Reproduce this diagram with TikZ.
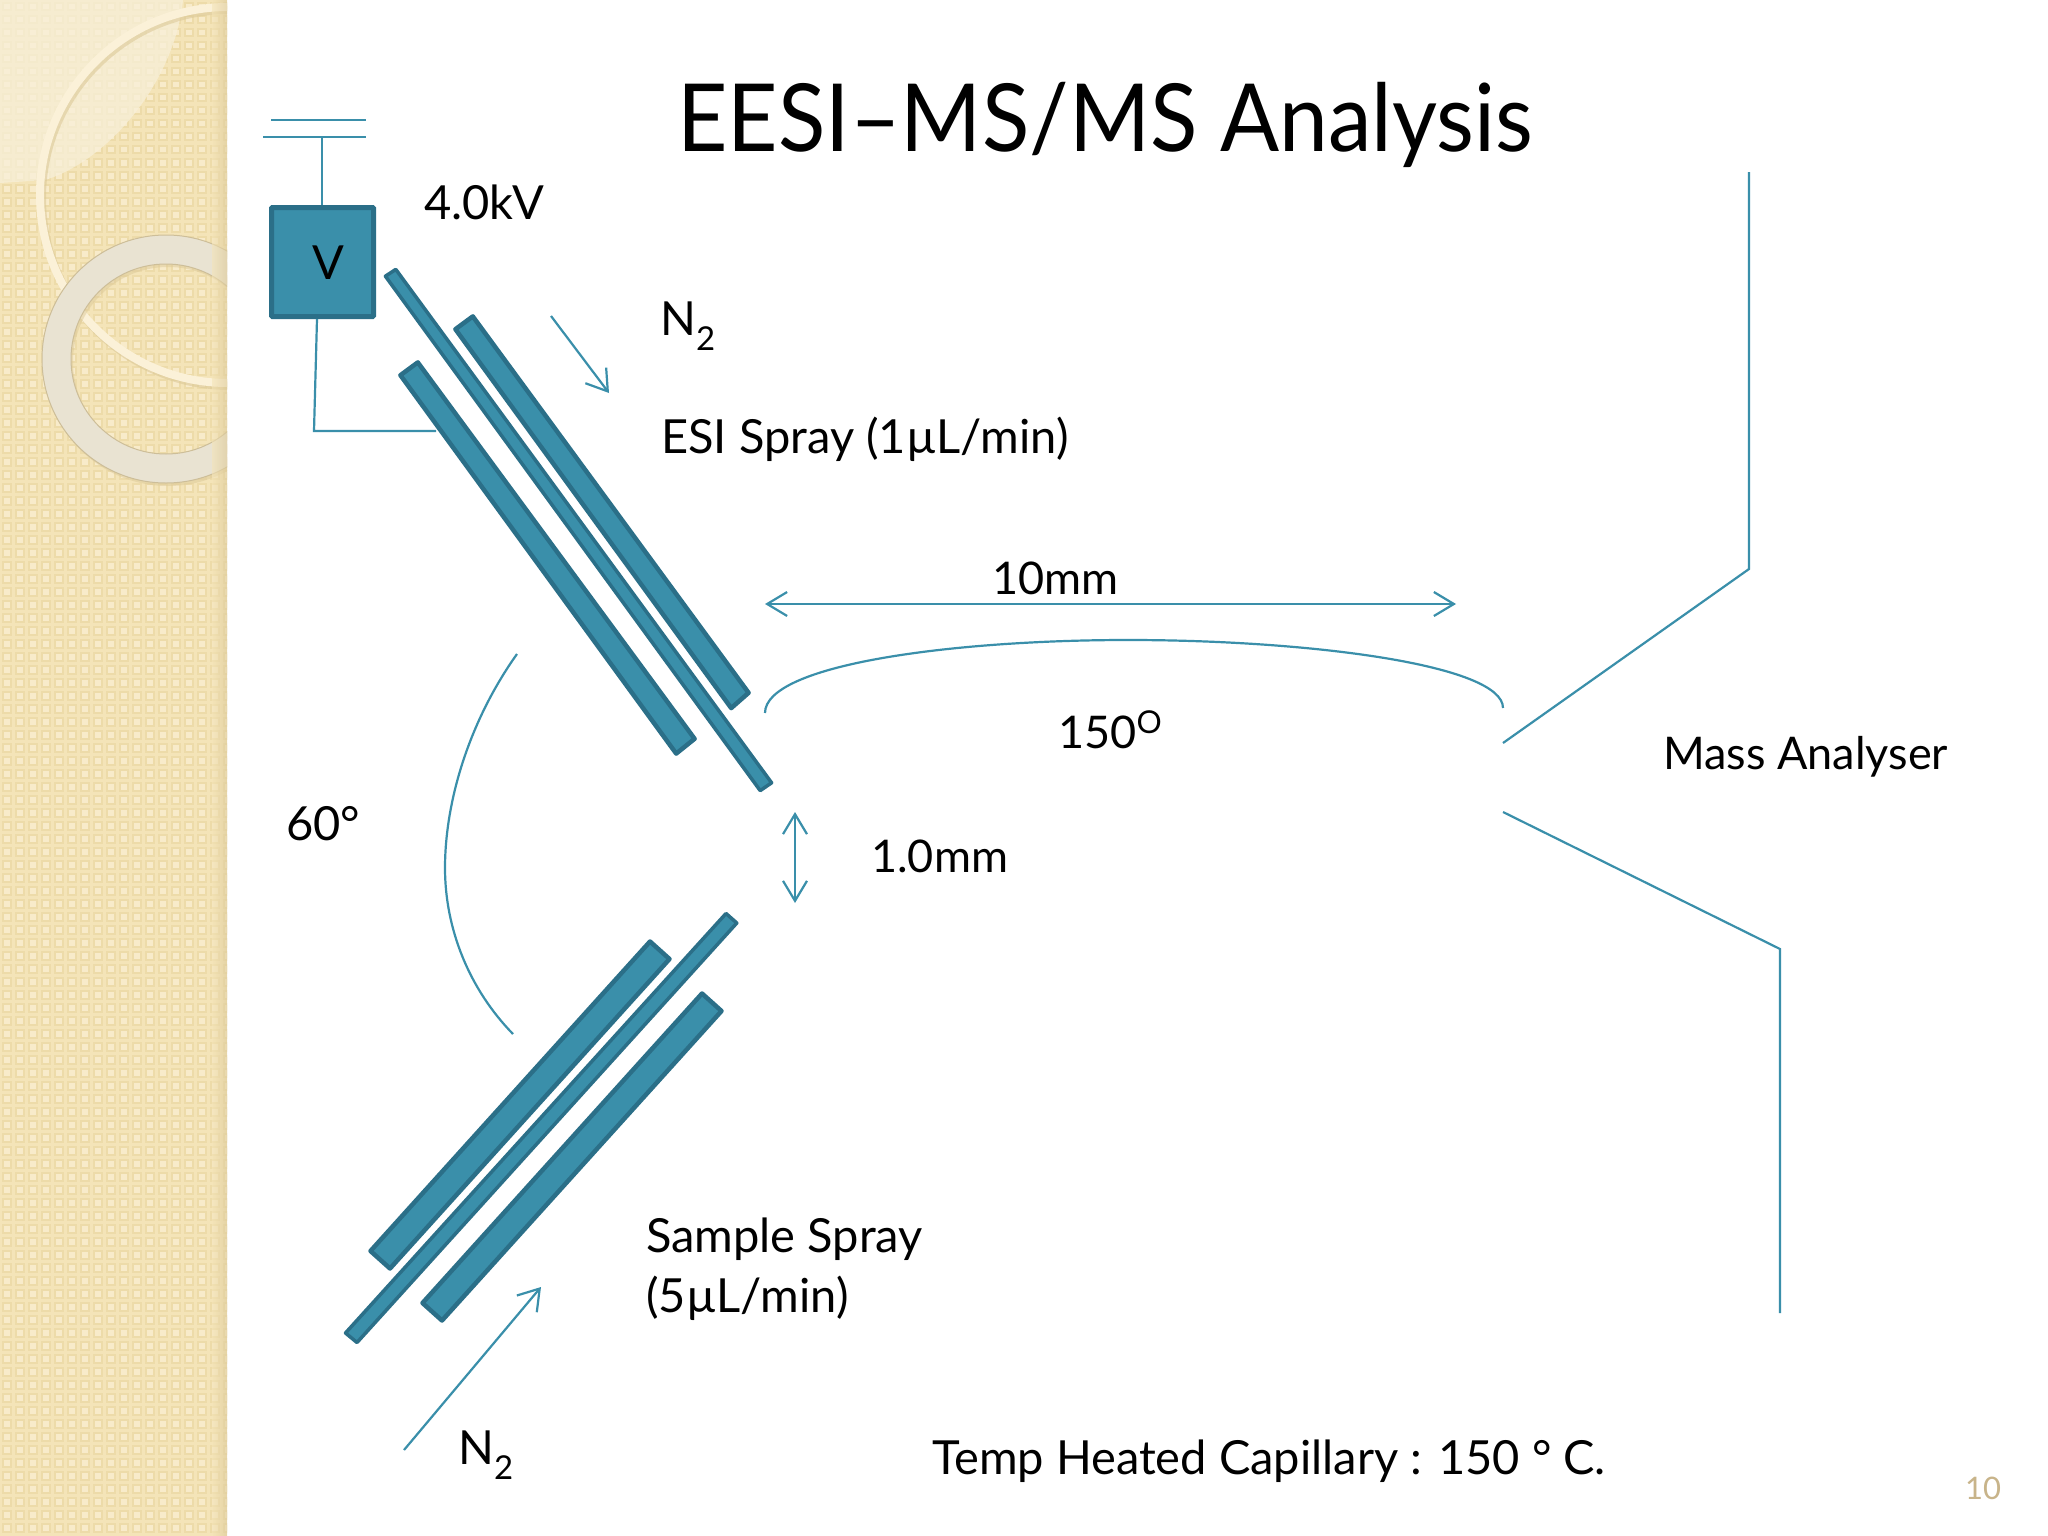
\documentclass[tikz,border=0pt]{standalone}
\usepackage{fontspec}
\setmainfont{Lato}
\usetikzlibrary{arrows.meta}
\definecolor{teal1}{HTML}{3A8FAA}
\definecolor{teal2}{HTML}{2B6F88}
\definecolor{side}{HTML}{F4E4B8}
\definecolor{sidel}{HTML}{F8EBCA}
\definecolor{sided}{HTML}{EDDBA9}
\definecolor{pnum}{HTML}{C8B48A}
\definecolor{ringa}{HTML}{FBF1D8}
\definecolor{ringb}{HTML}{E9E3D2}
\definecolor{ringc}{HTML}{CDBE98}
\definecolor{sidee}{HTML}{DCC998}
\definecolor{over}{HTML}{F8F0DA}
\tikzset{
  wire/.style={draw=teal1,line width=2.2pt},
  barb/.style={wire,{Straight Barb[length=20pt,width=24pt,line width=2.2pt]}-{Straight Barb[length=20pt,width=24pt,line width=2.2pt]}},
  arr/.style={wire,-{Straight Barb[length=20pt,width=26pt,line width=2.2pt]}},
  tube/.style={fill=teal1,draw=teal2,line width=4.5pt,line join=round},
  lab/.style={anchor=base west,inner sep=0pt,font=\fontsize{47}{56}\selectfont,text=black},
  labs/.style={lab,font=\fontsize{45}{54}\selectfont},
}
\begin{document}
\begin{tikzpicture}[x=1pt,y=-1pt]
\useasboundingbox (0,0) rectangle (2048,1536);
\fill[white] (0,0) rectangle (2048,1536);
% sidebar
\begin{scope}
\clip (0,0) rectangle (227,1536);
\fill[side] (0,0) rectangle (227,1536);
\foreach \i in {0,...,17}{
  \foreach \j in {0,...,118}{
    \fill[sided] (\i*13+2,\j*13+2) rectangle +(9.5,9.5);
    \fill[sidel] (\i*13+4,\j*13+4) rectangle +(5.5,5.5);
  }
}
\fill[over,opacity=.72] (183,0) .. controls (175,80) and (110,160) .. (45,180) -- (0,183) -- (0,0) -- cycle;
\draw[sidee,opacity=.6,line width=8pt] (230,198) circle[radius=188];
\draw[ringa,line width=8pt] (228,195) circle[radius=188];
\fill[sidee,opacity=.5,even odd rule] (168,362) circle[radius=124] (168,362) circle[radius=95];
\fill[ringb,even odd rule] (166,359) circle[radius=124] (166,359) circle[radius=95];
\draw[ringc,line width=1pt] (166,359) circle[radius=124] (166,359) circle[radius=95];
\shade[left color=side,right color=sidee,opacity=.6] (212,0) rectangle (227,1536);
\end{scope}
% voltage source
\node[draw=teal2,fill=teal1,line width=5pt,minimum width=102pt,minimum height=109pt,inner sep=0pt,rounded corners=1pt] (V) at (322.5,262) {};
\node[lab,anchor=center] (Vt) at (328,263) {V};
\coordinate (p1a) at (271,120); \coordinate (p1b) at (366,120);
\coordinate (p2a) at (263,137); \coordinate (p2b) at (366,137);
\coordinate (p2c) at (322,137); \coordinate (vt) at (322,205);
\coordinate (vb) at (317,319); \coordinate (vc) at (314,431); \coordinate (vd) at (436,431);
\draw[wire] (p1a) -- (p1b);
\draw[wire] (p2a) -- (p2b);
\draw[wire] (p2c) -- (vt);
\draw[wire] (vb) -- (vc) -- (vd);
% ESI tubes
\draw[tube] (472.8,316.4) -- (455.4,329.2) -- (731.2,708.1) -- (748.6,692.8) -- cycle;
\draw[tube] (417.8,362.4) -- (400.4,375.2) -- (676.2,753.6) -- (694.6,738.8) -- cycle;
\draw[tube,line width=3.5pt] (395.8,269.4) -- (385.4,276.2) -- (760.2,790.6) -- (771.6,782.8) -- cycle;
% sample tubes
\draw[tube] (650,941.5) -- (669.5,959) -- (390,1268.5) -- (370.5,1251) -- cycle;
\draw[tube] (702,993.5) -- (721.5,1011) -- (442,1320.5) -- (422.5,1303) -- cycle;
\draw[tube,line width=3.5pt] (726,913.5) -- (736.8,923) -- (357,1342.5) -- (345.5,1333) -- cycle;
% arrows
\coordinate (a1) at (551,316); \coordinate (a2) at (609,393);
\draw[arr] (a1) -- (a2);
\coordinate (b1) at (404,1450); \coordinate (b2) at (541,1287);
\draw[arr] (b1) -- (b2);
\coordinate (c1) at (765,604); \coordinate (c2) at (1456,604);
\draw[barb] (c1) -- (c2);
\coordinate (d1) at (795,812); \coordinate (d2) at (795,903);
\draw[barb] (d1) -- (d2);
% arcs
\coordinate (e1) at (765,713); \coordinate (e2) at (1503,708);
\draw[wire] (e1) .. controls (765,665) and (950,640) .. (1128,640) .. controls (1310,640) and (1503,665) .. (e2);
\coordinate (f1) at (517,654); \coordinate (f2) at (513,1034);
\draw[wire] (f1) .. controls (470,720) and (445,800) .. (445,868) .. controls (445,930) and (470,990) .. (f2);
% mass analyser
\coordinate (m1) at (1749,172); \coordinate (m2) at (1749,569); \coordinate (m3) at (1503,743);
\coordinate (m4) at (1503,812); \coordinate (m5) at (1780,949); \coordinate (m6) at (1780,1313);
\draw[wire] (m1) -- (m2) -- (m3);
\draw[wire] (m4) -- (m5) -- (m6);
% text
\node[anchor=base,inner sep=0pt,font=\fontsize{94}{110}\selectfont] (title) at (1105,151) {\scalebox{.93}[1]{EESI–MS/MS Analysis}};
\node[lab] (kv) at (424,219) {4.0kV};
\node[lab] (n2a) at (660,335) {N\textsubscript{2}};
\node[lab] (esi) at (661,453) {ESI Spray (1µL/min)};
\node[labs] (ten) at (992,594) {10mm};
\node[labs] (ang) at (1058,748) {150\raisebox{5pt}{\textsuperscript{O}}};
\node[labs] (mass) at (1663,769) {Mass Analyser};
\node[lab] (sixty) at (286,840) {60°};
\node[labs] (one) at (871,872) {1.0mm};
\node[lab] (sam) at (646,1252) {Sample Spray};
\node[lab] (sam2) at (646,1312) {(5µL/min)};
\node[lab] (n2b) at (458,1464) {N\textsubscript{2}};
\node[lab] (temp) at (932,1474) {Temp Heated Capillary : 150 ° C.};
\node[anchor=base west,inner sep=0pt,font=\fontsize{31}{36}\selectfont,text=pnum] (pg) at (1965,1499) {10};
\end{tikzpicture}
\end{document}
